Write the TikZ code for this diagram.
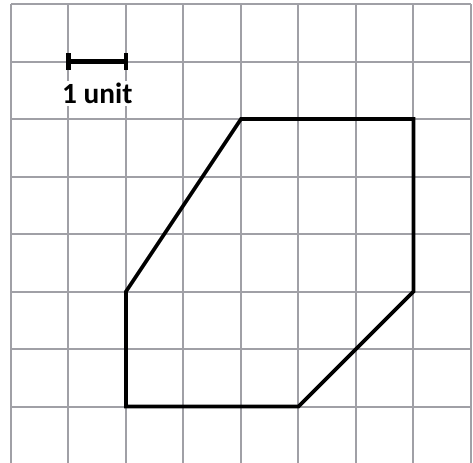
\documentclass[tikz,border=0pt]{standalone}
\usepackage{fontspec}
\setmainfont{Carlito}
\definecolor{gridgray}{RGB}{160,160,166}
\begin{document}
\begin{tikzpicture}[x=1cm,y=1cm,
  gridline/.style={draw=gridgray,line width=1pt},
  shapeline/.style={draw=black,line width=1.8pt,line join=miter},
  barline/.style={draw=black,line width=2pt},
  lbl/.style={fill=white,inner sep=1pt,font=\fontsize{14.5}{16}\selectfont\bfseries}]
\useasboundingbox (-0.191,0.07) rectangle (8.035,-7.965);
\begin{scope}
\clip (-0.191,0.07) rectangle (8.035,-7.965);
\draw[gridline] (0,0) grid (8,-8);
\end{scope}
\coordinate (b1) at (1,-1);
\coordinate (b2) at (2,-1);
\draw[barline] (b1) -- (b2);
\draw[barline] ([yshift=-0.15cm]b1) -- ([yshift=0.15cm]b1);
\draw[barline] ([yshift=-0.15cm]b2) -- ([yshift=0.15cm]b2);
\node[lbl] (u) at (1.5,-1.56) {1 unit};
\coordinate (p1) at (4,-2);
\coordinate (p2) at (7,-2);
\coordinate (p3) at (7,-5);
\coordinate (p4) at (5,-7);
\coordinate (p5) at (2,-7);
\coordinate (p6) at (2,-5);
\draw[shapeline] (p1) -- (p2) -- (p3) -- (p4) -- (p5) -- (p6) -- cycle;
\end{tikzpicture}
\end{document}
